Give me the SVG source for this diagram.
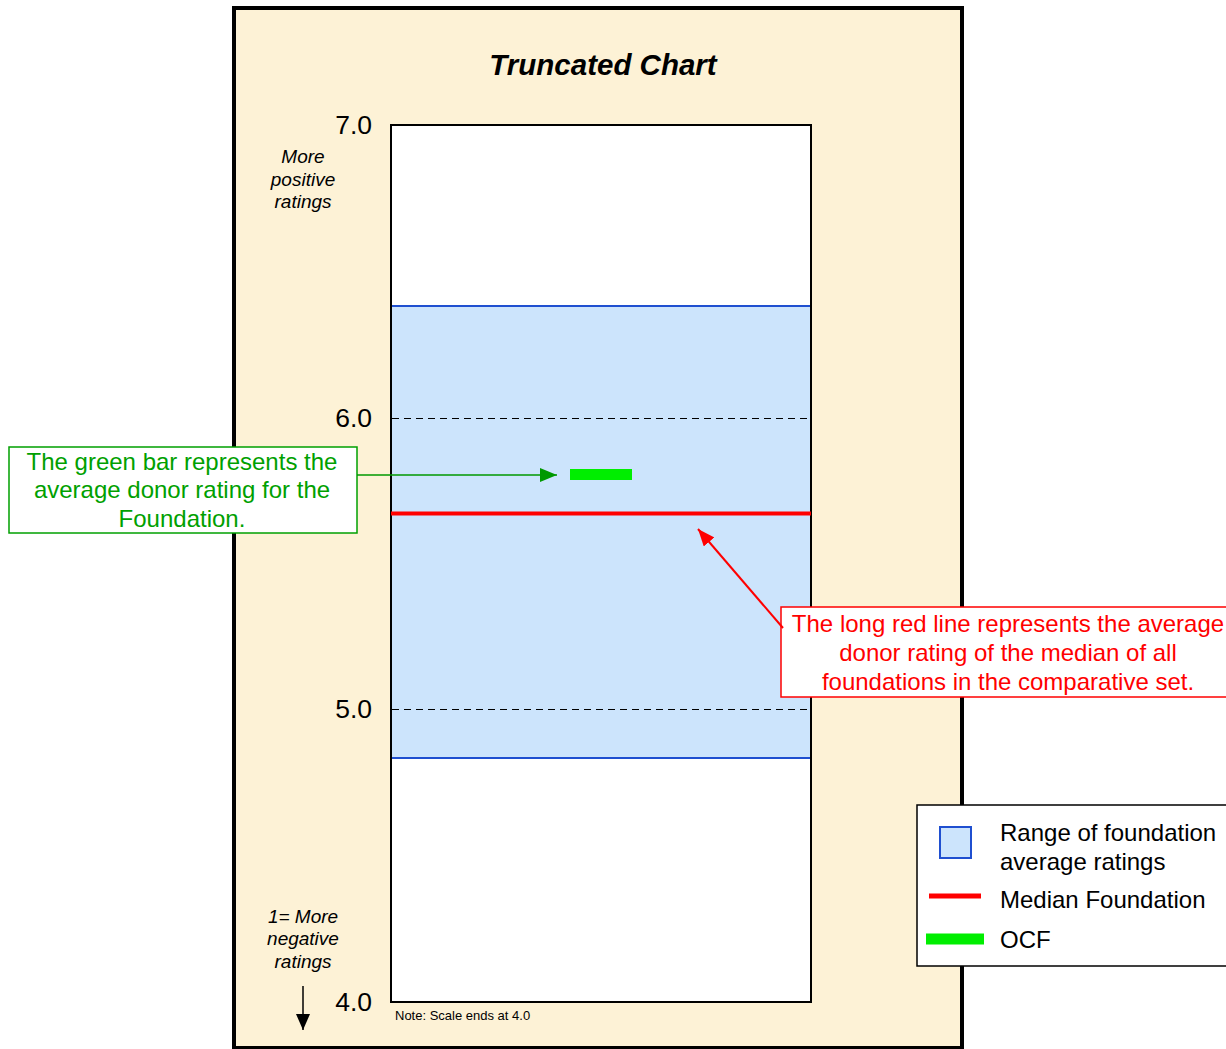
<svg xmlns="http://www.w3.org/2000/svg" width="1226" height="1049" viewBox="0 0 1226 1049">
<style>
text{font-family:"Liberation Sans",Arial,sans-serif}
.ax{font-size:26.5px;fill:#000;text-anchor:end}
.it{font-size:19px;font-style:italic;text-anchor:middle}
.g{font-size:24px;fill:#00A000;text-anchor:middle}
.r{font-size:24px;fill:#FF0000;text-anchor:middle}
.lg{font-size:24px;fill:#000}
.dash{stroke:#000;stroke-width:1;stroke-dasharray:7,5}
</style>
<defs>
<marker id="ag" markerWidth="17" markerHeight="14" refX="17" refY="7" orient="auto" markerUnits="userSpaceOnUse" viewBox="0 0 17 14"><path d="M0,0 L17,7 L0,14 z" fill="#009900"/></marker>
<marker id="ar" markerWidth="17" markerHeight="14" refX="17" refY="7" orient="auto" markerUnits="userSpaceOnUse" viewBox="0 0 17 14"><path d="M0,0 L17,7 L0,14 z" fill="#FF0000"/></marker>
<marker id="ak" markerWidth="16" markerHeight="14" refX="16" refY="7" orient="auto" markerUnits="userSpaceOnUse" viewBox="0 0 16 14"><path d="M0,0 L16,7 L0,14 z" fill="#000"/></marker>
</defs>
<rect width="1226" height="1049" fill="#fff"/>
<g id="frame">
<rect x="234" y="8" width="728" height="1040" fill="#FDF2D6" stroke="#000" stroke-width="4"/>
<text x="603" y="75" font-size="29.5" font-weight="bold" font-style="italic" text-anchor="middle">Truncated Chart</text>
</g>
<g id="plot">
<rect x="391" y="125" width="420" height="877" fill="#fff" stroke="#000" stroke-width="2"/>
<rect x="391" y="306" width="420" height="452" fill="#CCE4FC"/>
<line x1="391" y1="306" x2="811" y2="306" stroke="#1F4FD0" stroke-width="2"/>
<line x1="391" y1="758" x2="811" y2="758" stroke="#1F4FD0" stroke-width="2"/>
<line x1="391" y1="125" x2="391" y2="1002" stroke="#000" stroke-width="2"/>
<line x1="811" y1="125" x2="811" y2="1002" stroke="#000" stroke-width="2"/>
<line class="dash" x1="392" y1="418.5" x2="810" y2="418.5"/>
<line class="dash" x1="392" y1="709.5" x2="810" y2="709.5"/>
<line x1="391" y1="513.5" x2="811" y2="513.5" stroke="#FF0000" stroke-width="4"/>
<rect x="570" y="469" width="62" height="11" fill="#00EE00"/>
</g>
<g id="axis">
<text class="ax" x="372" y="134">7.0</text>
<text class="ax" x="372" y="427">6.0</text>
<text class="ax" x="372" y="718">5.0</text>
<text class="ax" x="372" y="1011">4.0</text>
<text class="it" x="303" y="163">More</text>
<text class="it" x="303" y="186">positive</text>
<text class="it" x="303" y="208">ratings</text>
<text class="it" x="303" y="923">1= More</text>
<text class="it" x="303" y="945">negative</text>
<text class="it" x="303" y="968">ratings</text>
<text x="395" y="1020" font-size="13">Note: Scale ends at 4.0</text>
</g>
<g id="green-callout">
<rect x="9" y="447" width="348" height="86" fill="#fff" stroke="#00A000" stroke-width="1.5"/>
<text class="g" x="182" y="470">The green bar represents the</text>
<text class="g" x="182" y="498">average donor rating for the</text>
<text class="g" x="182" y="527">Foundation.</text>
</g>
<g id="red-callout">
<rect x="781" y="607" width="450" height="90" fill="#fff" stroke="#FF0000" stroke-width="1.5"/>
<text class="r" x="1008" y="632">The long red line represents the average</text>
<text class="r" x="1008" y="661">donor rating of the median of all</text>
<text class="r" x="1008" y="690">foundations in the comparative set.</text>
</g>
<g id="legend">
<rect x="917" y="805" width="314" height="161" fill="#fff" stroke="#000" stroke-width="1.5"/>
<rect x="940" y="827" width="31" height="31" fill="#CCE4FC" stroke="#1F4FD0" stroke-width="2"/>
<line x1="929" y1="896" x2="981" y2="896" stroke="#FF0000" stroke-width="5"/>
<line x1="926" y1="939" x2="984" y2="939" stroke="#00EE00" stroke-width="11"/>
<text class="lg" x="1000" y="841">Range of foundation</text>
<text class="lg" x="1000" y="870">average ratings</text>
<text class="lg" x="1000" y="908">Median Foundation</text>
<text class="lg" x="1000" y="948">OCF</text>
</g>
<g id="connectors">
<line x1="357" y1="475" x2="557" y2="475" stroke="#009900" stroke-width="1.5" marker-end="url(#ag)"/>
<line x1="783" y1="628" x2="698" y2="529" stroke="#FF0000" stroke-width="2" marker-end="url(#ar)"/>
<line x1="303" y1="986" x2="303" y2="1030" stroke="#000" stroke-width="1.5" marker-end="url(#ak)"/>
</g>
</svg>
